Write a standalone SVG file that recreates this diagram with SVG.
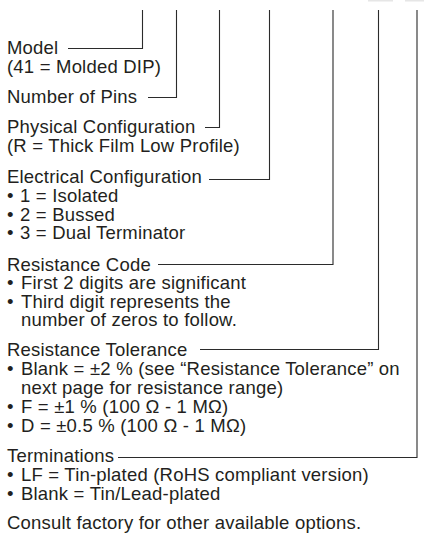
<svg xmlns="http://www.w3.org/2000/svg" width="424" height="533" viewBox="0 0 424 533">
<style>
text{font-family:"Liberation Sans",Arial,Helvetica,sans-serif;font-size:18.5px;letter-spacing:0.2px;fill:#231f20}
.c{fill:none;stroke:#2b2b2b;stroke-width:1.1}
</style>
<rect width="424" height="533" fill="#fff"/>
<rect x="368" y="0" width="25" height="1.5" fill="#e6e6e6"/>
<rect x="405" y="0" width="19" height="1.5" fill="#e6e6e6"/>
<g id="connectors">
<path class="c" d="M142.5,10V48.5H68"/>
<path class="c" d="M176.5,10V97.5H148"/>
<path class="c" d="M219.5,10V127.5H205"/>
<path class="c" d="M269.5,10V179.5H209"/>
<path class="c" d="M333,10V264.5H158"/>
<path class="c" d="M378.5,10V349.5H200"/>
<path class="c" d="M417,10V457.5H118"/>
</g>
<g id="model">
<text x="7" y="54">Model</text>
<text x="7" y="72.7">(41 = Molded DIP)</text>
</g>
<g id="pins">
<text x="7" y="103.3">Number of Pins</text>
</g>
<g id="physical">
<text x="7" y="133">Physical Configuration</text>
<text x="7" y="152">(R = Thick Film Low Profile)</text>
</g>
<g id="electrical">
<text x="7" y="183">Electrical Configuration</text>
<text x="7" y="201.7">•</text><text x="20" y="201.7">1 = Isolated</text>
<text x="7" y="220.5">•</text><text x="20" y="220.5">2 = Bussed</text>
<text x="7" y="239.3">•</text><text x="20" y="239.3">3 = Dual Terminator</text>
</g>
<g id="resistance-code">
<text x="7" y="270.5">Resistance Code</text>
<text x="7" y="289.3">•</text><text x="21" y="289.3">First 2 digits are significant</text>
<text x="7" y="307.8">•</text><text x="21" y="307.8">Third digit represents the</text>
<text x="21" y="326.3">number of zeros to follow.</text>
</g>
<g id="resistance-tolerance">
<text x="7" y="356">Resistance Tolerance</text>
<text x="7" y="375">•</text><text x="21" y="375">Blank = ±2 % (see “Resistance Tolerance” on</text>
<text x="21" y="394">next page for resistance range)</text>
<text x="7" y="413">•</text><text x="21" y="413">F = ±1 % (100 Ω - 1 MΩ)</text>
<text x="7" y="432">•</text><text x="21" y="432">D = ±0.5 % (100 Ω - 1 MΩ)</text>
</g>
<g id="terminations">
<text x="7" y="461.7">Terminations</text>
<text x="7" y="481">•</text><text x="21" y="481">LF = Tin-plated (RoHS compliant version)</text>
<text x="7" y="500">•</text><text x="21" y="500">Blank = Tin/Lead-plated</text>
</g>
<g id="note">
<text x="7" y="529">Consult factory for other available options.</text>
</g>
</svg>
